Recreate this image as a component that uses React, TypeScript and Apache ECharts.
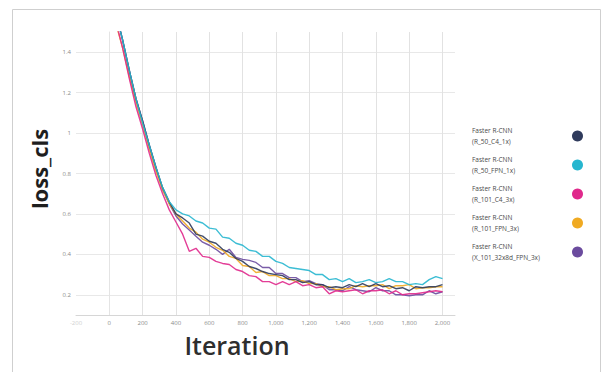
import React, { useEffect, useRef } from "react";
import * as echarts from "echarts";

const iterations = [
  0, 40, 80, 120, 160, 200, 240, 280, 320, 360,
  400, 440, 480, 520, 560, 600, 640, 680, 720, 760,
  800, 840, 880, 920, 960, 1000, 1040, 1080, 1120, 1160,
  1200, 1240, 1280, 1320, 1360, 1400, 1440, 1480, 1520, 1560,
  1600, 1640, 1680, 1720, 1760, 1800, 1840, 1880, 1920, 1960, 2000,
];

const seriesNames = [
  "Faster R-CNN\n(R_50_C4_1x)",
  "Faster R-CNN\n(R_50_FPN_1x)",
  "Faster R-CNN\n(R_101_C4_3x)",
  "Faster R-CNN\n(R_101_FPN_3x)",
  "Faster R-CNN\n(X_101_32x8d_FPN_3x)",
];

const seriesColors = ["#2f3b5c", "#27b6cf", "#e0298c", "#f0aa22", "#6b4b9e"];

const r50c4 = [
  1.86, 1.59, 1.46, 1.31, 1.17, 1.06, 0.94, 0.83, 0.73, 0.66,
  0.6, 0.58, 0.555, 0.5, 0.49, 0.465, 0.455, 0.425, 0.41, 0.38,
  0.365, 0.34, 0.33, 0.315, 0.305, 0.3, 0.295, 0.275, 0.275, 0.26,
  0.265, 0.25, 0.25, 0.235, 0.24, 0.235, 0.25, 0.24, 0.255, 0.24,
  0.255, 0.24, 0.245, 0.23, 0.235, 0.22, 0.24, 0.235, 0.24, 0.24, 0.25,
];

const r50fpn = [
  1.86, 1.59, 1.46, 1.31, 1.17, 1.05, 0.94, 0.83, 0.73, 0.66,
  0.62, 0.6, 0.59, 0.565, 0.555, 0.53, 0.525, 0.485, 0.48, 0.455,
  0.445, 0.42, 0.415, 0.39, 0.39, 0.365, 0.355, 0.335, 0.33, 0.325,
  0.32, 0.3, 0.3, 0.275, 0.28, 0.265, 0.28, 0.26, 0.265, 0.275,
  0.26, 0.265, 0.28, 0.265, 0.265, 0.25, 0.255, 0.25, 0.275, 0.29, 0.28,
];

const r101c4 = [
  1.82, 1.55, 1.42, 1.27, 1.13, 1.02, 0.9, 0.79, 0.7, 0.62,
  0.56, 0.5, 0.415, 0.43, 0.39, 0.385, 0.365, 0.355, 0.35, 0.325,
  0.315, 0.295, 0.29, 0.265, 0.265, 0.25, 0.265, 0.25, 0.265, 0.245,
  0.25, 0.235, 0.24, 0.205, 0.22, 0.215, 0.22, 0.225, 0.205, 0.22,
  0.22, 0.225, 0.205, 0.22, 0.2, 0.205, 0.205, 0.21, 0.215, 0.22, 0.215,
];

const r101fpn = [
  1.8, 1.54, 1.42, 1.28, 1.15, 1.04, 0.92, 0.81, 0.72, 0.65,
  0.6, 0.565, 0.53, 0.51, 0.475, 0.46, 0.435, 0.42, 0.39, 0.38,
  0.345, 0.34, 0.31, 0.315, 0.295, 0.295, 0.28, 0.28, 0.265, 0.27,
  0.255, 0.255, 0.24, 0.24, 0.225, 0.23, 0.23, 0.245, 0.24, 0.245,
  0.245, 0.25, 0.23, 0.245, 0.245, 0.25, 0.23, 0.235, 0.235, 0.24, 0.24,
];

const x101fpn = [
  1.87, 1.6, 1.46, 1.31, 1.17, 1.06, 0.94, 0.83, 0.72, 0.65,
  0.59, 0.55, 0.52, 0.49, 0.46, 0.445, 0.425, 0.4, 0.425, 0.385,
  0.375, 0.37, 0.36, 0.335, 0.335, 0.305, 0.305, 0.285, 0.285, 0.265,
  0.27, 0.255, 0.25, 0.225, 0.225, 0.22, 0.24, 0.225, 0.22, 0.215,
  0.235, 0.22, 0.22, 0.2, 0.2, 0.195, 0.2, 0.2, 0.22, 0.205, 0.215,
];

const allValues = [r50c4, r50fpn, r101c4, r101fpn, x101fpn];
const drawOrder = [4, 3, 2, 0, 1];

export default function App() {
  const ref = useRef<HTMLDivElement>(null);
  useEffect(() => {
    if (!ref.current) return;
    const chart = echarts.init(ref.current, null, { renderer: "svg" });
    const series = drawOrder.map((i) => ({
      name: seriesNames[i],
      type: "line",
      showSymbol: false,
      clip: true,
      data: iterations.map((it, k) => [it, allValues[i][k]]),
      lineStyle: { width: 1.4, color: seriesColors[i], opacity: 0.9 },
      itemStyle: { color: seriesColors[i] },
    }));
    chart.setOption({
      animation: false,
      backgroundColor: "#ffffff",
      grid: { left: 76, right: 156, top: 32, bottom: 57, containLabel: false },
      xAxis: {
        type: "value",
        min: -200,
        max: 2075,
        interval: 200,
        axisLine: { show: true, lineStyle: { color: "#d6d6d6", width: 1 } },
        axisTick: { show: false },
        axisLabel: {
          fontSize: 6,
          margin: 5,
          fontFamily: "Open Sans",
          showMaxLabel: false,
          color: (v: any) => (Number(v) < 0 ? "#d0d0d0" : "#8a8a8a"),
          formatter: (v: number) => v.toLocaleString("en-US"),
        },
        splitLine: {
          show: true,
          showMinLine: false,
          showMaxLine: false,
          lineStyle: { color: "#e2e2e2", width: 1 },
        },
      },
      yAxis: {
        type: "value",
        min: 0.1,
        max: 1.5,
        splitNumber: 7,
        axisLine: { show: true, lineStyle: { color: "#e4e4e4", width: 1 } },
        axisTick: { show: false },
        axisLabel: {
          fontSize: 6,
          margin: 5,
          fontFamily: "Open Sans",
          color: "#8a8a8a",
          showMinLabel: false,
          showMaxLabel: false,
        },
        splitLine: {
          show: true,
          showMinLine: false,
          showMaxLine: false,
          lineStyle: { color: "#e8e8e8", width: 1 },
        },
      },
      legend: {
        data: seriesNames,
        orient: "vertical",
        left: 472,
        top: 125,
        padding: 0,
        align: "right",
        icon: "circle",
        itemWidth: 11,
        itemHeight: 11,
        itemGap: 7,
        formatter: (name: string) =>
          name
            .split("\n")
            .map((l) => "{t|" + l + "}")
            .join("\n"),
        textStyle: {
          fontSize: 6.5,
          lineHeight: 11,
          color: "#4a4a4a",
          fontFamily: "Open Sans",
          rich: {
            t: {
              width: 95,
              align: "left",
              fontSize: 6.5,
              lineHeight: 11,
              color: "#4a4a4a",
              fontFamily: "Open Sans",
            },
          },
        },
      },
      graphic: [
        {
          type: "rect",
          shape: { x: 12.5, y: 9.5, width: 588, height: 420 },
          style: { fill: "none", stroke: "#cfcfcf", lineWidth: 1 },
          silent: true,
        },
        {
          type: "text",
          x: 39,
          y: 169,
          rotation: Math.PI / 2,
          style: {
            text: "loss_cls",
            fontSize: 22,
            fontWeight: "bold",
            fontFamily: "Open Sans",
            fill: "#1e1e1e",
            textAlign: "center",
            textVerticalAlign: "middle",
          },
        },
        {
          type: "text",
          x: 237,
          y: 345,
          style: {
            text: "Iteration",
            fontSize: 25,
            fontWeight: 600,
            fontFamily: "Open Sans",
            fill: "#2e2e2e",
            textAlign: "center",
            textVerticalAlign: "middle",
          },
        },
      ],
      series,
    });
    return () => chart.dispose();
  }, []);
  return (
    <div
      ref={ref}
      style={{ position: "fixed", left: 0, top: 0, width: 611, height: 372 }}
    />
  );
}
